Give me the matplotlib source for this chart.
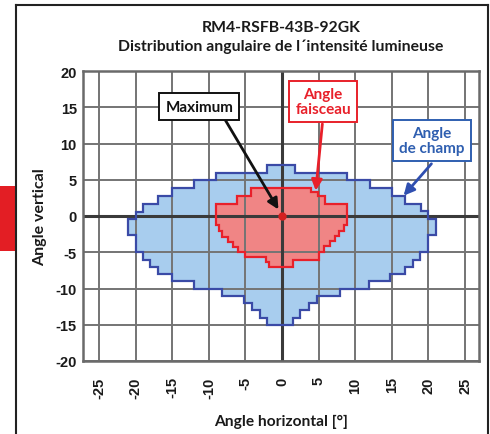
import matplotlib
matplotlib.use("Agg")
import matplotlib.pyplot as plt
from matplotlib.patches import Polygon, Rectangle
from matplotlib.lines import Line2D

# ---------------- data ----------------
title_line1 = "RM4-RSFB-43B-92GK"
title_line2 = "Distribution angulaire de l´intensité lumineuse"
x_label = "Angle horizontal [°]"
y_label = "Angle vertical"
x_ticks = [-25, -20, -15, -10, -5, 0, 5, 10, 15, 20, 25]
y_ticks = [-20, -15, -10, -5, 0, 5, 10, 15, 20]

# field angle (Angle de champ) outline
field_x = [-20, -19, -19, -17, -17, -15, -15, -12, -12, -9, -9, -2, -2, 1.7, 1.7, 8.8, 8.8,
           12, 12, 15, 15, 16.8, 16.8, 19, 19, 20, 20, 21, 21, 20, 20,
           18.8, 18.8, 17.9, 17.9, 16.8, 16.8, 14.8, 14.8, 11.9, 11.9, 7.9, 7.9, 4.8, 4.8,
           3.7, 3.7, 2.5, 2.5, 1.5, 1.5, -2, -2, -3, -3, -4.1, -4.1, -5.2, -5.2, -8.2, -8.2,
           -12, -12, -15, -15, -17, -17, -18, -18, -19, -19, -20, -20, -21, -21, -20]
field_y = [0.5, 0.5, 1.6, 1.6, 2.7, 2.7, 3.8, 3.8, 5.0, 5.0, 6.0, 6.0, 7.0, 7.0, 6.0, 6.0, 5.0,
           5.0, 3.8, 3.8, 2.7, 2.7, 1.7, 1.7, 0.7, 0.7, -0.4, -0.4, -2.6, -2.6, -5,
           -5, -6, -6, -7, -7, -8, -8, -9, -9, -10, -10, -11, -11, -12,
           -12, -13, -13, -14, -14, -15, -15, -14, -14, -13, -13, -12, -12, -11, -11, -10,
           -10, -9, -9, -8, -8, -7, -7, -6, -6, -5, -5, -2.6, -2.6, -0.4, -0.4]

# beam angle (Angle faisceau) outline
beam_x = [-9, -6.1, -6.1, -4.2, -4.2, 4.0, 4.0, 4.9, 4.9, 5.9, 5.9, 8.8, 8.8, 8.4, 8.4,
          7.8, 7.8, 7.2, 7.2, 6.5, 6.5, 5.7, 5.7, 5.0, 5.0, 1.5, 1.5, -1.8, -1.8, -2.2, -2.2,
          -5.0, -5.0, -6.0, -6.0, -6.7, -6.7, -7.4, -7.4, -8.2, -8.2, -8.6, -8.6, -9]
beam_y = [1.7, 1.7, 2.8, 2.8, 3.8, 3.8, 3.3, 3.3, 2.8, 2.8, 1.7, 1.7, -1.25, -1.25, -2.0,
          -2.0, -2.75, -2.75, -3.5, -3.5, -4.2, -4.2, -4.9, -4.9, -6.0, -6.0, -7.0, -7.0, -6.3, -6.3, -5.6,
          -5.6, -5.0, -5.0, -4.3, -4.3, -3.6, -3.6, -2.9, -2.9, -2.0, -2.0, -1.2, -1.2]

max_x = [0]
max_y = [0]

# ---------------- figure ----------------
W, H = 490, 435
fig = plt.figure(figsize=(W / 100, H / 100), dpi=100)
fig.patch.set_facecolor("white")

ax = fig.add_axes([83 / W, (H - 362) / H, 396 / W, 290 / H])
ax.set_xlim(-27.2, 26.9)
ax.set_ylim(-20, 20)

field_fill = "#a8cdee"
field_edge = "#3a4aa6"
beam_fill = "#f08585"
beam_edge = "#e8202a"

ax.add_patch(Polygon(list(zip(field_x, field_y)), closed=True, facecolor=field_fill,
                     edgecolor="none", zorder=1))
ax.add_patch(Polygon(list(zip(beam_x, beam_y)), closed=True, facecolor=beam_fill,
                     edgecolor="none", zorder=1.1))

# grid
for xv in x_ticks:
    ax.axvline(xv, color="#747474", lw=1.4, zorder=2)
for yv in y_ticks:
    ax.axhline(yv, color="#747474", lw=1.4, zorder=2)
ax.axvline(0, color="#3a3a3a", lw=2.2, zorder=2.1)
ax.axhline(0, color="#3a3a3a", lw=2.2, zorder=2.1)

# outlines on top of grid
ax.add_patch(Polygon(list(zip(field_x, field_y)), closed=True, facecolor="none",
                     edgecolor=field_edge, lw=1.6, zorder=3))
ax.add_patch(Polygon(list(zip(beam_x, beam_y)), closed=True, facecolor="none",
                     edgecolor=beam_edge, lw=1.6, zorder=3.1))

ax.plot(max_x, max_y, "o", color="#d42020", ms=5, zorder=4)

for s in ax.spines.values():
    s.set_color("#6a6a6a")
    s.set_linewidth(1.8)

ax.set_xticks(x_ticks)
ax.set_yticks(y_ticks)
ax.set_xticklabels([str(v) for v in x_ticks], rotation=90,
                   fontfamily="Liberation Sans", fontweight="bold", fontsize=10.5)
ax.set_yticklabels([str(v) for v in y_ticks],
                   fontfamily="Liberation Sans", fontweight="bold", fontsize=10.5)
ax.tick_params(axis="x", length=0, pad=11, colors="#1a1a1a")
ax.tick_params(axis="y", length=0, pad=4.5, colors="#1a1a1a")

lab_font = dict(family="Lato", weight="bold", color="#1a1a1a")
ax.set_xlabel(x_label, fontsize=11.2, labelpad=12, **lab_font)
ax.set_ylabel(y_label, fontsize=11.5, labelpad=6, **lab_font)

fig.text(281 / W, 1 - 28 / H, title_line1, ha="center", va="center", fontsize=11.3, **lab_font)
fig.text(281 / W, 1 - 47 / H, title_line2, ha="center", va="center", fontsize=11.3, **lab_font)

# annotations
def box(x, y, txt, col, edge):
    ax.text(x, y, txt, ha="center", va="center", fontsize=11, color=col,
            family="Lato", weight="bold", linespacing=1.05, zorder=6,
            bbox=dict(boxstyle="square,pad=0.4", facecolor="white", edgecolor=edge, lw=1.4))

def arrow(x0, y0, x1, y1, col):
    ax.annotate("", xy=(x1, y1), xytext=(x0, y0),
                arrowprops=dict(arrowstyle="-|>", color=col, lw=2.0, mutation_scale=16,
                                shrinkA=0, shrinkB=0), zorder=5)

arrow(-7.8, 13.3, -0.5, 0.9, "#111111")
box(-11.3, 15.1, "Maximum", "#111111", "#111111")

arrow(5.5, 12.7, 4.6, 3.5, "#e8202a")
box(5.6, 15.8, "Angle\nfaisceau", "#e8202a", "#e8202a")

arrow(20.4, 7.2, 16.6, 2.8, "#2f4fb0")
box(20.5, 10.4, "Angle\nde champ", "#2f5fb0", "#2f5fb0")

# page frame and red tab
fig.add_artist(Line2D([16 / W, 16 / W], [0, 1 - 6 / H], transform=fig.transFigure,
                      color="#222222", lw=1.5))
fig.add_artist(Line2D([16 / W, 488 / W], [1 - 6 / H, 1 - 6 / H], transform=fig.transFigure,
                      color="#222222", lw=1.5))
fig.add_artist(Line2D([488 / W, 488 / W], [0, 1 - 6 / H], transform=fig.transFigure,
                      color="#222222", lw=1.5))
fig.add_artist(Rectangle((0, 1 - 252 / H), 16 / W, 65 / H, transform=fig.transFigure,
                         facecolor="#e31e24", edgecolor="none"))

fig.savefig("out.png", dpi=100)
